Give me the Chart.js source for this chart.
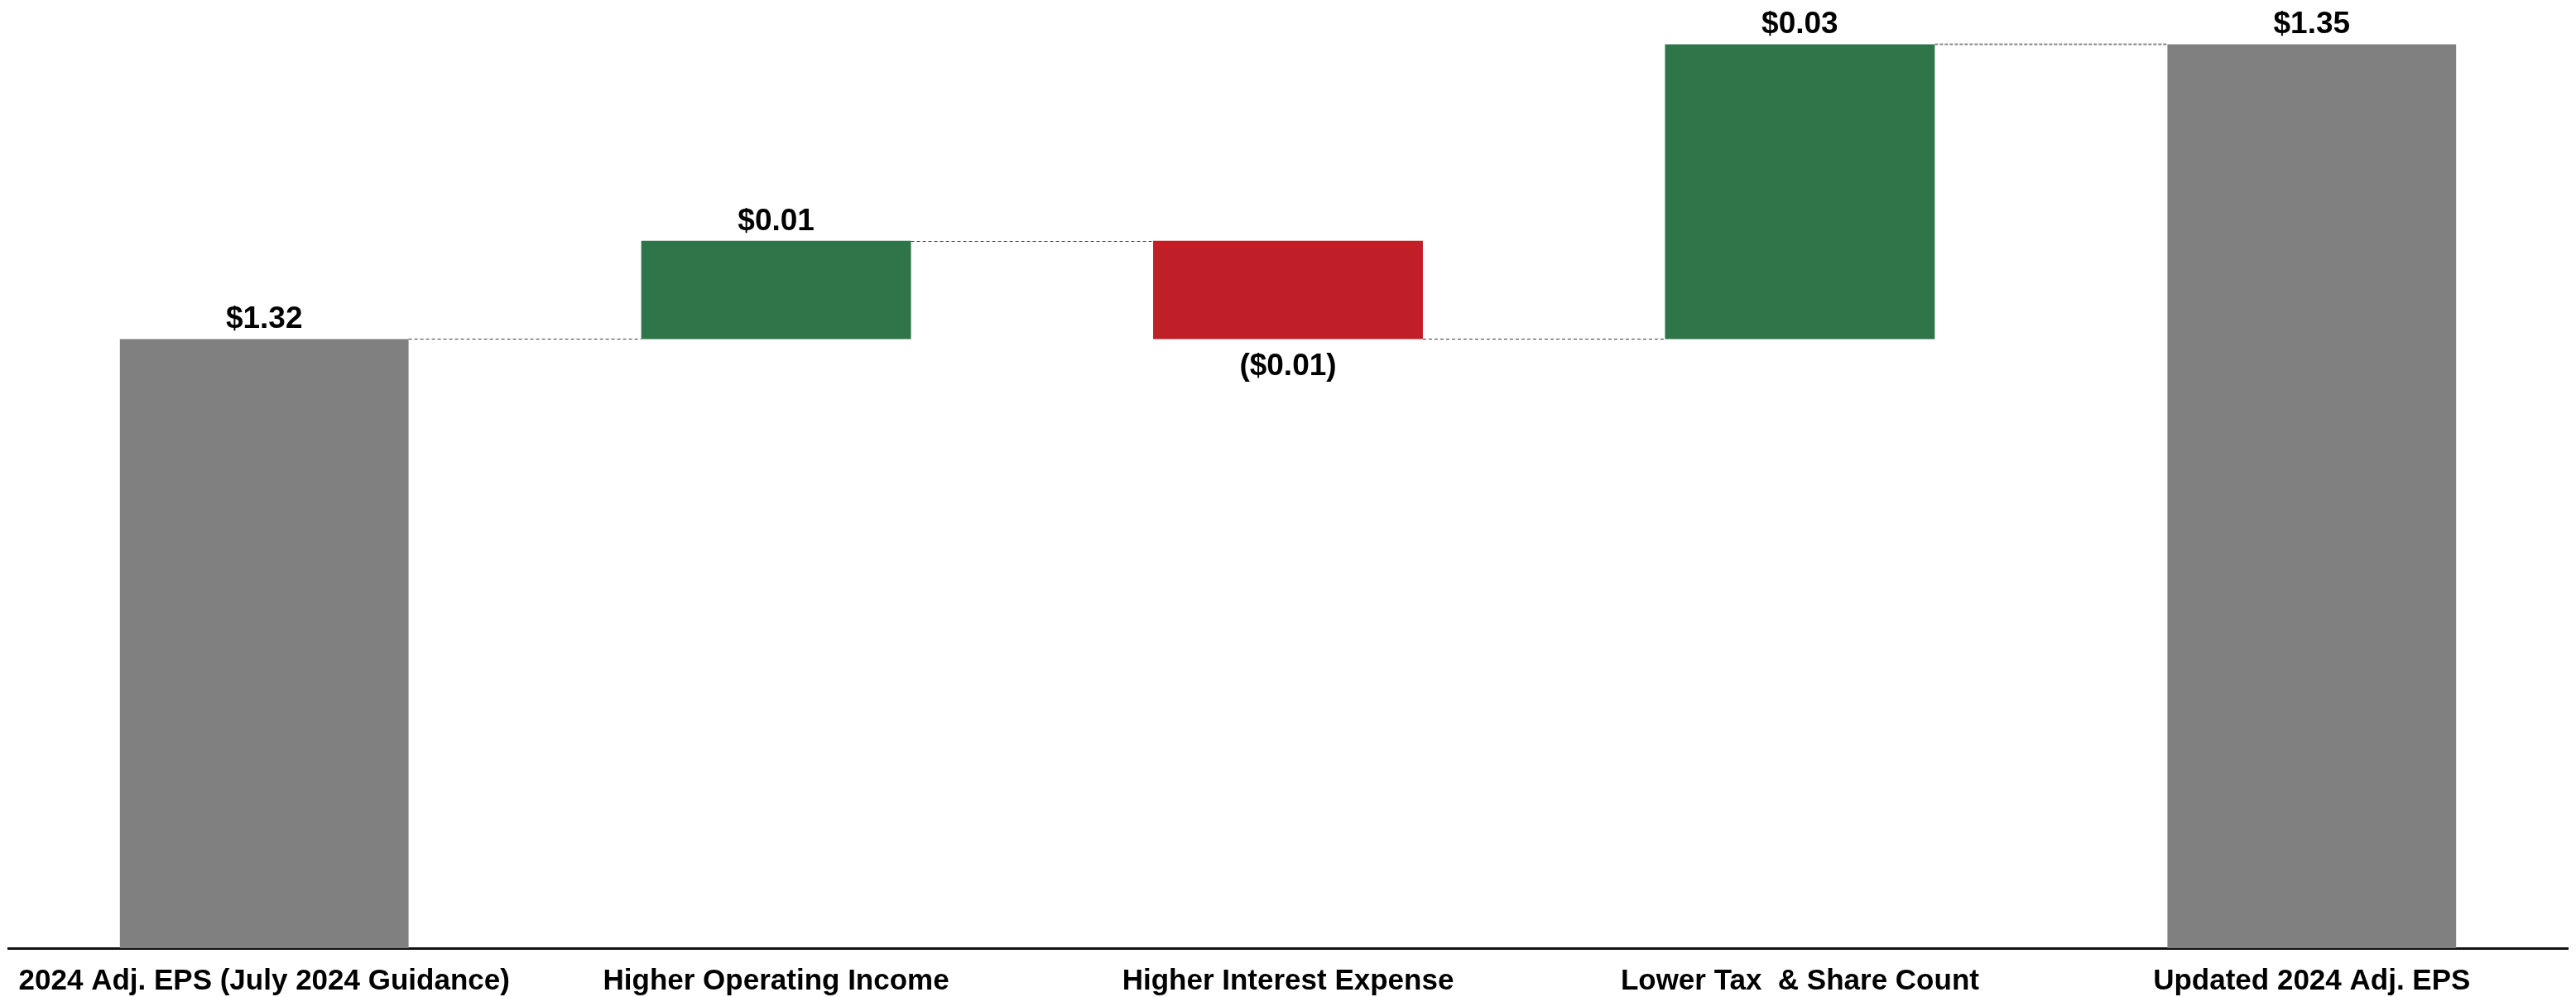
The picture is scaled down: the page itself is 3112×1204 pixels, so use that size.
<!DOCTYPE html>
<html>
<head>
<meta charset="utf-8">
<title>2024 Adj. EPS bridge</title>
<script src="https://cdn.jsdelivr.net/npm/chart.js@4.4.1/dist/chart.umd.min.js"></script>
<style>
    html, body { margin: 0; padding: 0; background: #ffffff; overflow: hidden; }
    #wrap { position: relative; width: 3112px; height: 1204px; }
</style>
</head>
<body>
<div id="wrap"><canvas id="eps"></canvas></div>
<script>
// Waterfall: July guidance -> updated 2024 adjusted EPS

const CATEGORIES = [
    '2024 Adj. EPS (July 2024 Guidance)',
    'Higher Operating Income',
    'Higher Interest Expense',
    'Lower Tax  & Share Count',
    'Updated 2024 Adj. EPS'
];
// first and last are totals, the middle ones are changes
const STEP_VALUES = [1.32, 0.01, -0.01, 0.03, 1.35];
const BAR_KIND = ['total', 'delta', 'delta', 'delta', 'total'];
const VALUE_LABELS = ['$1.32', '$0.01', '($0.01)', '$0.03', '$1.35'];
// visible value range of the (hidden) y axis
const Y_MIN = 1.258;
const Y_MAX = 1.354;

const GRAY = '#808080';
const GREEN = '#2e7549';
const RED = '#c01f27';
const FONT = '"Liberation Sans", Arial, sans-serif';

// floating [start, end] ranges from the steps
const ends = [];
const ranges = [];
let running = 0;
STEP_VALUES.forEach((v, i) => {
    if (BAR_KIND[i] === 'total') {
        ranges.push([Y_MIN, v]);
        running = v;
    } else {
        ranges.push([running, running + v]);
        running = running + v;
    }
    ends.push(running);
});

const totalData = ranges.map((r, i) => BAR_KIND[i] === 'total' ? r : null);
const deltaData = ranges.map((r, i) => BAR_KIND[i] === 'delta' ? r : null);
const deltaColors = STEP_VALUES.map(v => v < 0 ? RED : GREEN);

const waterfallDecor = {
    id: 'waterfallDecor',
    afterDatasetsDraw(chart) {
        const ctx = chart.ctx;
        const yScale = chart.scales.y;
        const bars = CATEGORIES.map((c, i) =>
            chart.getDatasetMeta(BAR_KIND[i] === 'total' ? 0 : 1).data[i]);

        // dashed connectors between bars
        ctx.save();
        for (let i = 0; i < bars.length - 1; i++) {
            const a = bars[i], b = bars[i + 1];
            const yy = Math.round(yScale.getPixelForValue(ends[i])) + 0.5;
            const last = i === bars.length - 2;
            ctx.beginPath();
            ctx.setLineDash(last ? [4, 2] : [4, 3]);
            ctx.lineWidth = last ? 2 : 1;
            ctx.strokeStyle = last ? '#8a8a8a' : '#3a3a3a';
            ctx.moveTo(a.x + a.width / 2, yy);
            ctx.lineTo(b.x - b.width / 2, yy);
            ctx.stroke();
        }
        ctx.restore();

        // value labels
        ctx.save();
        ctx.font = 'bold 37px ' + FONT;
        ctx.fillStyle = '#000000';
        ctx.textAlign = 'center';
        ctx.textBaseline = 'alphabetic';
        bars.forEach((bar, i) => {
            const top = Math.min(bar.y, bar.base);
            const bottom = Math.max(bar.y, bar.base);
            if (STEP_VALUES[i] < 0) {
                ctx.fillText(VALUE_LABELS[i], bar.x, bottom + 44);
            } else {
                ctx.fillText(VALUE_LABELS[i], bar.x, top - 13);
            }
        });
        ctx.restore();
    }
};

new Chart(document.getElementById('eps'), {
    type: 'bar',
    data: {
        labels: CATEGORIES,
        datasets: [
            {
                label: 'Total',
                data: totalData,
                backgroundColor: GRAY,
                barPercentage: 0.564,
                categoryPercentage: 1.0,
                grouped: false,
                borderSkipped: false
            },
            {
                label: 'Change',
                data: deltaData,
                backgroundColor: deltaColors,
                barPercentage: 0.527,
                categoryPercentage: 1.0,
                grouped: false,
                borderSkipped: false
            }
        ]
    },
    options: {
        responsive: true,
        maintainAspectRatio: false,
        animation: false,
        layout: { padding: { top: 6, left: 10, right: 10, bottom: -21 } },
        plugins: {
            legend: { display: false },
            tooltip: { enabled: false }
        },
        scales: {
            x: {
                z: 1,
                grid: { display: false, drawTicks: false },
                border: { display: true, color: '#111111', width: 3 },
                ticks: {
                    color: '#000000',
                    padding: 19,
                    maxRotation: 0,
                    autoSkip: false,
                    font: { family: FONT, size: 35, weight: 'bold' }
                }
            },
            y: {
                display: false,
                min: Y_MIN,
                max: Y_MAX
            }
        }
    },
    plugins: [waterfallDecor]
});
</script>
</body>
</html>
